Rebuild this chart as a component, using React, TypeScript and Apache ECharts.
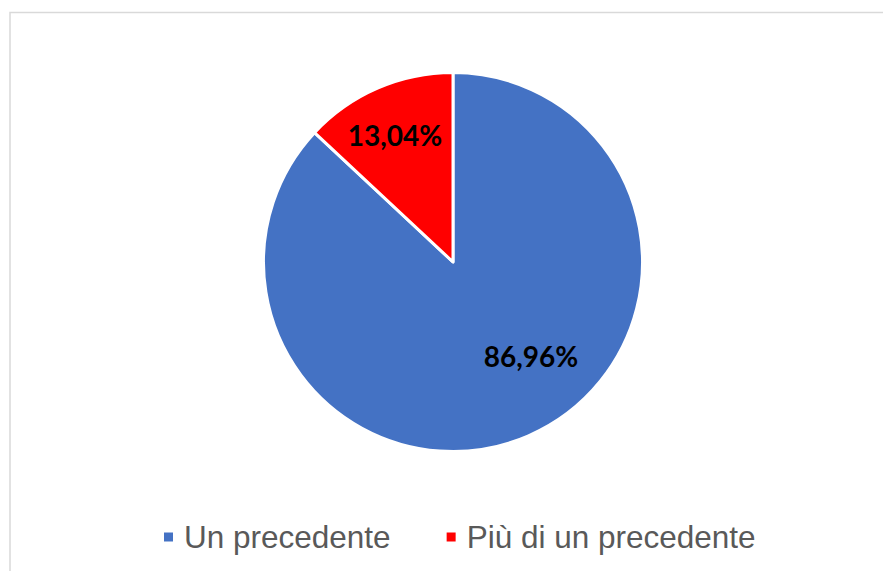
import React, { useEffect, useRef } from "react";
import * as echarts from "echarts";

const categories: string[] = ["Un precedente", "Più di un precedente"];
const values: number[] = [86.96, 13.04];
const colors: string[] = ["#4472C4", "#FF0000"];
const labelShift: number[][] = [
  [39, 4],
  [-19, -37],
];

export default function App() {
  const ref = useRef<HTMLDivElement>(null);
  useEffect(() => {
    if (!ref.current) return;
    const chart = echarts.init(ref.current, undefined, { renderer: "svg" });
    chart.setOption({
      animation: false,
      backgroundColor: "#ffffff",
      graphic: [
        {
          type: "rect",
          shape: { x: 10, y: 12.5, width: 900, height: 620 },
          style: { fill: "none", stroke: "#d9d9d9", lineWidth: 1.5 },
          silent: true,
        },
      ],
      legend: {
        left: 162,
        top: 521,
        padding: 0,
        icon: "rect",
        itemWidth: 11,
        itemHeight: 11,
        itemGap: 54,
        textStyle: {
          fontFamily: "Liberation Sans, Arial, sans-serif",
          fontSize: 31.5,
          color: "#595959",
          padding: [0, 0, 0, 5],
        },
        data: categories,
      },
      series: [
        {
          type: "pie",
          center: [453, 262],
          radius: [0, 189.5],
          startAngle: 90,
          clockwise: true,
          itemStyle: { borderColor: "#ffffff", borderWidth: 3 },
          label: {
            show: true,
            position: "inside",
            fontFamily: "Lato, Carlito, Calibri, sans-serif",
            fontWeight: "bold",
            fontSize: 28,
            color: "#000000",
            formatter: (p: any) => p.value.toFixed(2).replace(".", ",") + "%",
          },
          labelLine: { show: false },
          labelLayout: (p: any) => ({
            dx: labelShift[p.dataIndex][0],
            dy: labelShift[p.dataIndex][1],
          }),
          emphasis: { disabled: true },
          data: categories.map((name, i) => ({
            name,
            value: values[i],
            itemStyle: { color: colors[i] },
          })),
        },
      ],
    });
    return () => chart.dispose();
  }, []);
  return (
    <div
      ref={ref}
      style={{ position: "fixed", left: 0, top: 0, width: 883, height: 571 }}
    />
  );
}
